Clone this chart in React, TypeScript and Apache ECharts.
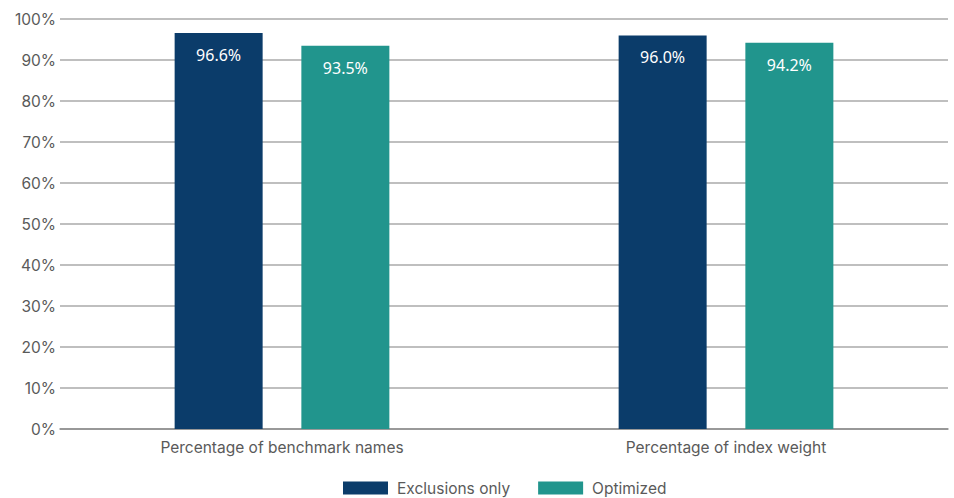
import React, { useEffect, useRef } from "react";
import * as echarts from "echarts";

const categories = ["Percentage of benchmark names", "Percentage of index weight"];
const exclusionsOnly = [96.6, 96.0];
const optimized = [93.5, 94.2];
const yTicks = [0, 10, 20, 30, 40, 50, 60, 70, 80, 90, 100];

export default function App() {
  const ref = useRef<HTMLDivElement>(null);
  useEffect(() => {
    if (!ref.current) return;
    const chart = echarts.init(ref.current, null, { renderer: "svg" });
    const labelStyle = {
      show: true,
      position: "insideTop",
      distance: 14,
      color: "#ffffff",
      fontFamily: "Noto Sans",
      fontSize: 16,
      formatter: (p: any) => p.value.toFixed(1) + "%",
    };
    chart.setOption({
      animation: false,
      grid: { left: 60, right: 6, top: 19, bottom: 69, containLabel: false },
      legend: {
        top: 480,
        left: 343,
        padding: 0,
        itemWidth: 45,
        itemHeight: 13,
        itemGap: 28,
        icon: "rect",
        textStyle: { color: "#5a5a5a", fontFamily: "Inter", fontSize: 15.5, padding: [0, 0, 0, 4] },
        data: ["Exclusions only", "Optimized"],
      },
      xAxis: {
        type: "category",
        data: categories,
        axisTick: { show: false },
        axisLine: { lineStyle: { color: "#8c8c8c", width: 1.5 } },
        axisLabel: { color: "#5a5a5a", fontFamily: "Inter", fontSize: 15.5, margin: 10 },
      },
      yAxis: {
        type: "value",
        min: 0,
        max: 100,
        interval: 10,
        axisLabel: {
          color: "#5a5a5a",
          fontFamily: "Inter",
          fontSize: 15.5,
          margin: 4,
          formatter: (v: number) => (yTicks.includes(v) ? v + "%" : ""),
        },
        splitLine: { lineStyle: { color: "#aaaaaa", width: 1.5 } },
        axisLine: { show: false },
        axisTick: { show: false },
      },
      series: [
        {
          name: "Exclusions only",
          type: "bar",
          data: exclusionsOnly,
          barWidth: 88,
          barGap: "44%",
          itemStyle: { color: "#0b3c6a" },
          label: labelStyle,
        },
        {
          name: "Optimized",
          type: "bar",
          data: optimized,
          barWidth: 88,
          itemStyle: { color: "#21958d" },
          label: labelStyle,
        },
      ],
    });
    return () => chart.dispose();
  }, []);
  return <div ref={ref} style={{ width: 954, height: 498, position: "absolute", left: 0, top: 0 }} />;
}
